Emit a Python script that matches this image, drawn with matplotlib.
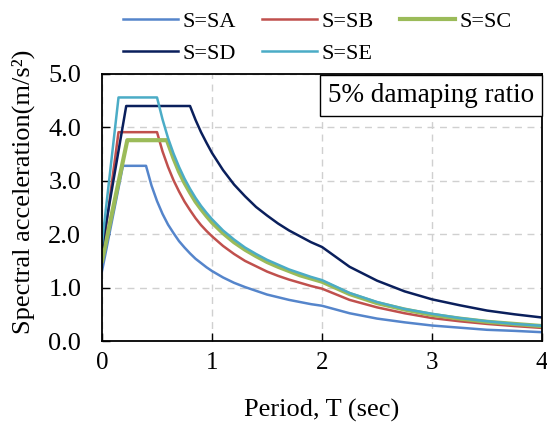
import matplotlib
matplotlib.use('Agg')
import matplotlib.pyplot as plt

# design spectra (T in sec, Sa in m/s^2)
t_sa = [0.0, 0.19, 0.40, 0.45, 0.5, 0.55, 0.6, 0.65, 0.7, 0.75, 0.8, 0.85,
        0.9, 0.95, 1.0, 1.1, 1.2, 1.3, 1.4, 1.5, 1.6, 1.7, 1.8, 1.9, 2.0,
        2.25, 2.5, 2.75, 3.0, 3.25, 3.5, 3.75, 4.0]
sa_sa = [1.31, 3.28, 3.28, 2.91, 2.62, 2.38, 2.18, 2.02, 1.87, 1.75, 1.64, 1.54,
         1.46, 1.38, 1.31, 1.19, 1.09, 1.01, 0.94, 0.87, 0.82, 0.77, 0.73, 0.69,
         0.66, 0.52, 0.42, 0.35, 0.29, 0.25, 0.21, 0.19, 0.165]

t_sb = [0.0, 0.15, 0.50, 0.55, 0.6, 0.65, 0.7, 0.75, 0.8, 0.85, 0.9, 0.95,
        1.0, 1.1, 1.2, 1.3, 1.4, 1.5, 1.6, 1.7, 1.8, 1.9, 2.0,
        2.25, 2.5, 2.75, 3.0, 3.25, 3.5, 3.75, 4.0]
sa_sb = [1.56, 3.91, 3.91, 3.55, 3.26, 3.01, 2.80, 2.61, 2.45, 2.30, 2.17, 2.06,
         1.96, 1.78, 1.63, 1.50, 1.40, 1.30, 1.22, 1.15, 1.09, 1.03, 0.98,
         0.77, 0.63, 0.52, 0.43, 0.37, 0.32, 0.28, 0.245]

t_sc = [0.0, 0.23, 0.59, 0.65, 0.7, 0.75, 0.8, 0.85, 0.9, 0.95,
        1.0, 1.1, 1.2, 1.3, 1.4, 1.5, 1.6, 1.7, 1.8, 1.9, 2.0,
        2.25, 2.5, 2.75, 3.0, 3.25, 3.5, 3.75, 4.0]
sa_sc = [1.50, 3.76, 3.76, 3.42, 3.17, 2.96, 2.78, 2.61, 2.47, 2.34,
         2.22, 2.02, 1.85, 1.71, 1.59, 1.48, 1.39, 1.31, 1.23, 1.17, 1.11,
         0.88, 0.71, 0.59, 0.49, 0.42, 0.36, 0.32, 0.28]

t_sd = [0.0, 0.22, 0.80, 0.85, 0.9, 0.95, 1.0, 1.1, 1.2, 1.3, 1.4, 1.5,
        1.6, 1.7, 1.8, 1.9, 2.0, 2.25, 2.5, 2.75, 3.0, 3.25, 3.5, 3.75, 4.0]
sa_sd = [1.76, 4.40, 4.40, 4.14, 3.91, 3.71, 3.52, 3.20, 2.93, 2.71, 2.51, 2.35,
         2.20, 2.07, 1.96, 1.85, 1.76, 1.39, 1.13, 0.93, 0.78, 0.67, 0.57, 0.50,
         0.44]

t_se = [0.0, 0.15, 0.50, 0.55, 0.6, 0.65, 0.7, 0.75, 0.8, 0.85, 0.9, 0.95,
        1.0, 1.1, 1.2, 1.3, 1.4, 1.5, 1.6, 1.7, 1.8, 1.9, 2.0,
        2.25, 2.5, 2.75, 3.0, 3.25, 3.5, 3.75, 4.0]
sa_se = [1.83, 4.56, 4.56, 4.15, 3.80, 3.51, 3.26, 3.04, 2.85, 2.68, 2.53, 2.40,
         2.28, 2.07, 1.90, 1.75, 1.63, 1.52, 1.43, 1.34, 1.27, 1.20, 1.14,
         0.90, 0.73, 0.60, 0.51, 0.43, 0.37, 0.32, 0.285]

plt.rcParams['font.family'] = 'Liberation Serif'

fig = plt.figure(figsize=(5.47, 4.25), dpi=100)
ax = fig.add_axes([0.1865, 0.1976, 0.8045, 0.6284])

l_sa, = ax.plot(t_sa, sa_sa, color='#5585CB', lw=1.8, label='S=SA')
l_sb, = ax.plot(t_sb, sa_sb, color='#C0504D', lw=1.8, label='S=SB')
l_sc, = ax.plot(t_sc, sa_sc, color='#9BBB59', lw=3.0, label='S=SC')
l_sd, = ax.plot(t_sd, sa_sd, color='#0A1F5C', lw=1.8, label='S=SD')
l_se, = ax.plot(t_se, sa_se, color='#4BACC6', lw=1.8, label='S=SE')

ax.set_xlim(0, 4)
ax.set_ylim(0, 5)
ax.set_xticks([0, 1, 2, 3, 4])
ax.set_yticks([0, 1, 2, 3, 4, 5])
ax.set_yticklabels(['0.0', '1.0', '2.0', '3.0', '4.0', '5.0'])
ax.tick_params(direction='in', length=6, width=1, labelsize=19)
ax.tick_params(axis='x', pad=8, labelsize=18)
ax.tick_params(axis='y', pad=15)
ax.grid(True, color='#D0D0D0', linestyle=(0, (5, 4)), lw=1)
for s in ax.spines.values():
    s.set_linewidth(1.3)

ax.set_xlabel('Period, T (sec)', fontsize=19, labelpad=18)
ax.set_ylabel('Spectral acceleration(m/s²)', fontsize=19)
ax.yaxis.set_label_coords(-0.152, 0.56)

ax.text(0.982, 0.966, '5% damaping ratio', transform=ax.transAxes,
        ha='right', va='top', fontsize=19.5,
        bbox=dict(boxstyle='square,pad=0.3', fc='white', ec='black', lw=1))

handles = [l_sa, l_sd, l_sb, l_se, l_sc]
fig.legend(handles, [h.get_label() for h in handles], ncol=3,
           loc='upper center', bbox_to_anchor=(0.58, 1.02), frameon=False,
           fontsize=16, handlelength=2.5, handletextpad=0.2,
           columnspacing=1.15, labelspacing=0.5)

fig.savefig('out.png', dpi=100)
